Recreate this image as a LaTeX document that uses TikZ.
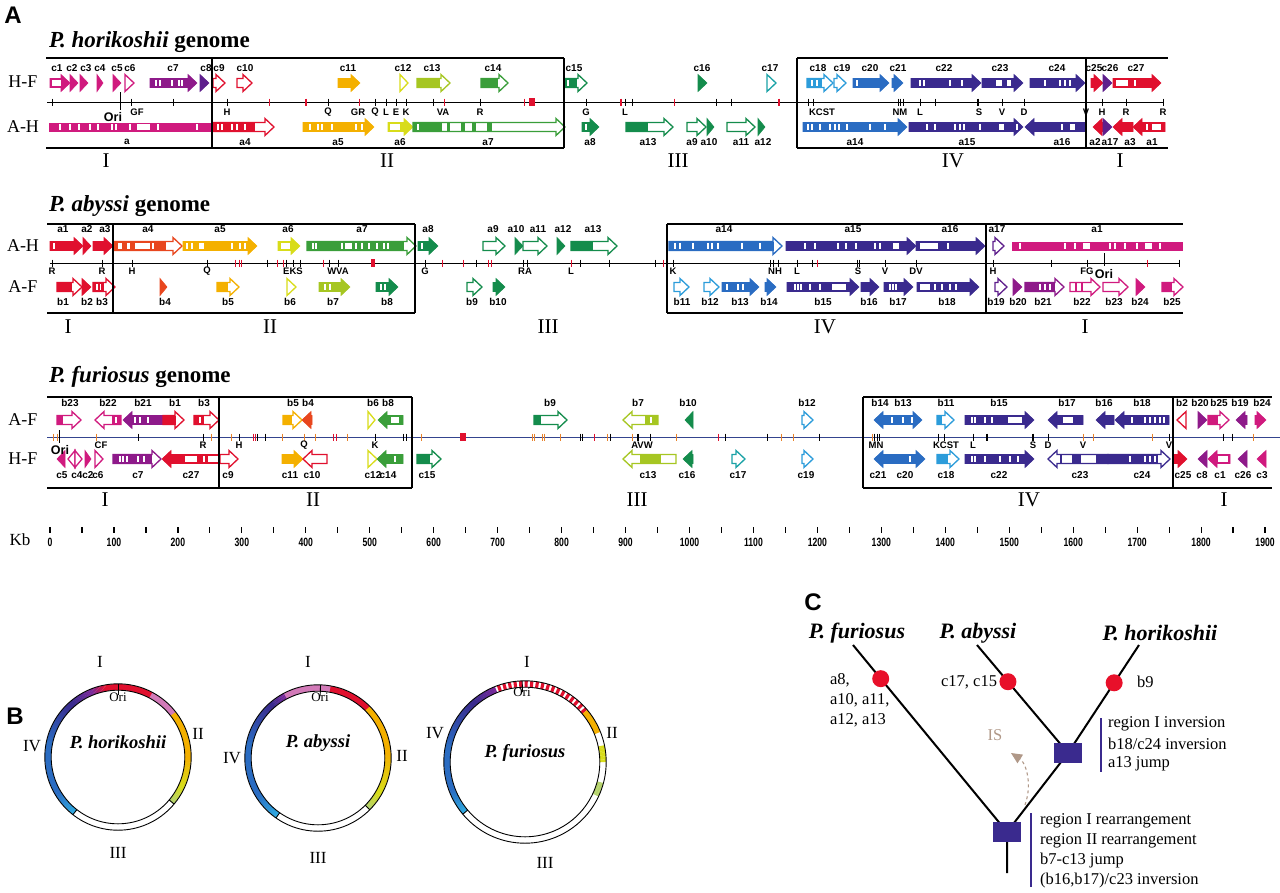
\documentclass[tikz,border=0pt]{standalone}
\usepackage{fontspec}
\usepackage{graphicx}
\setmainfont{Liberation Serif}
\newfontfamily\sansf{Liberation Sans}
\usetikzlibrary{calc,arrows.meta,backgrounds}
\definecolor{cMag}{HTML}{D01A7E}
\definecolor{cPur}{HTML}{8E1A8A}
\definecolor{cDpur}{HTML}{5E1F8C}
\definecolor{cRed}{HTML}{E0102E}
\definecolor{cOred}{HTML}{E8461E}
\definecolor{cOra}{HTML}{F4B000}
\definecolor{cYel}{HTML}{D8DC1A}
\definecolor{cYgr}{HTML}{A6C622}
\definecolor{cGr}{HTML}{3A9E3A}
\definecolor{cDgr}{HTML}{148C4C}
\definecolor{cTeal}{HTML}{1AA2A6}
\definecolor{cLblu}{HTML}{2C9CDA}
\definecolor{cBlu}{HTML}{2A6CC2}
\definecolor{cInd}{HTML}{3A2A8E}
\definecolor{cPink}{HTML}{D27AB8}
\definecolor{cLgr}{HTML}{B4D26A}
\definecolor{cCyan}{HTML}{2EA8E0}
\definecolor{cPurB}{HTML}{7A2A9A}
\definecolor{cIS}{HTML}{B09888}
\definecolor{cTick}{HTML}{E8822A}
\definecolor{cLine}{HTML}{34448E}
\definecolor{cDot}{HTML}{E8102A}
\newcommand\fs[1]{\fontsize{#1}{#1}\selectfont}
\newcount\nn
% gene arrow: tail, tip, y, style
\newcommand\GA[4]{%
  \pgfmathsetmacro\gd{(#2>#1)?1:-1}%
  \pgfmathsetmacro\gh{#2-\gd*min(9,abs(#2-#1))}%
  \path[#4] (#1,#3-4.5) -- (\gh,#3-4.5) -- (\gh,#3-8.5) -- (#2,#3) -- (\gh,#3+8.5) -- (\gh,#3+4.5) -- (#1,#3+4.5) -- cycle;}
\newcommand\WB[3]{\fill[white] (#1,#3-3) rectangle (#2,#3+3);}
\newcommand\CB[4]{\fill[#4] (#1,#3-4.5) rectangle (#2,#3+4.5);}
\newcommand\ST[2]{\foreach \s in {#2}{\fill[white] (\s-0.9,#1-3) rectangle (\s+0.9,#1+3);}}
\newcommand\TK[3][]{\foreach \t in {#3}{\draw[line width=0.9,#1] (\t,#2-3.5) -- (\t,#2+3.5);}}
\newcommand\GLs[2]{\foreach \x/\l in {#2}{\global\advance\nn by 1\relax \node[glab] (g\the\nn) at (\x,#1) {\l};}}
\newcommand\TLs[2]{\foreach \x/\l in {#2}{\global\advance\nn by 1\relax \node[tlab] (t\the\nn) at (\x,#1) {\l};}}
\newcommand\RG[5]{\foreach \i in {0,...,11}{%
  \pgfmathsetmacro\aa{#2+(#3-#2)*\i/12}%
  \pgfmathsetmacro\ab{#2+(#3-#2)*(\i+1.15)/12}%
  \pgfmathtruncatemacro\pc{100-\i*100/11}%
  \draw[line width=6,#4!\pc!#5] (\aa:#1) arc[start angle=\aa,end angle=\ab,radius=#1];}}
\begin{document}
\begin{tikzpicture}[x=1pt,y=-1pt,
  every node/.style={inner sep=0pt,outer sep=0pt},
  glab/.style={font=\sansf\bfseries\fs{10}},
  tlab/.style={font=\sansf\bfseries\fs{9.5}},
  side/.style={font=\fs{18}},
  reg/.style={font=\fs{21}},
  ttl/.style={font=\fs{23}\bfseries,anchor=west},
  plab/.style={font=\sansf\bfseries\fs{24}},
  gf/.style={fill=#1,draw=#1,line width=0.6},
  go/.style={fill=white,draw=#1,line width=1.3},
  box/.style={line width=1.2},
  vbar/.style={line width=1.6},
  sq/.style={fill=cInd,minimum width=28,minimum height=20},
  dot/.style={circle,fill=cDot,minimum size=17},
  tree/.style={line width=2},
  ctxt/.style={font=\fs{16.5}},
  btxt/.style={font=\fs{17}},
  cname/.style={font=\fs{22}\bfseries\itshape},
  bname/.style={font=\fs{18.5}\bfseries\itshape}]
\useasboundingbox (0,0) rectangle (1280,892);
\node[plab] (pA) at (13,15) {A};
% ================= Row 1: P. horikoshii =================
\node[ttl] (tit1) at (49,42) {\textit{P. horikoshii} genome};
\node[side] (hf1) at (23,82) {H-F};
\node[side] (ah1) at (23,127) {A-H};
% H-F
\GA{50}{70}{83}{gf=cMag}\WB{51.5}{61}{83}
\GA{70}{78}{83}{gf=cMag}
\GA{80}{88}{83}{gf=cMag}
\GA{97}{103}{83}{gf=cMag}
\GA{113}{121}{83}{gf=cMag}
\GA{125}{134}{83}{go=cMag}
\GA{150}{197}{83}{gf=cPur}\ST{83}{156,160,172,179,182}
\GA{200}{209}{83}{gf=cDpur}
\GA{213}{225}{83}{go=cRed}
\GA{237}{252}{83}{go=cRed}
\GA{338}{360}{83}{gf=cOra}
\GA{400}{408}{83}{go=cYel}
\GA{417}{450}{83}{go=cYgr}\CB{417}{440}{83}{cYgr}
\GA{481}{508}{83}{go=cGr}\CB{481}{498}{83}{cGr}
\GA{564}{587}{83}{go=cDgr}\CB{564}{577}{83}{cDgr}\ST{83}{568}
\GA{698}{707}{83}{gf=cDgr}
\GA{767}{776}{83}{go=cTeal}
\GA{807}{833}{83}{go=cLblu}\CB{807}{822}{83}{cLblu}\ST{83}{812,817}
\GA{834}{846}{83}{go=cLblu}
\GA{853}{889}{83}{gf=cBlu}\ST{83}{857}
\GA{892}{903}{83}{gf=cBlu}
\GA{911}{981}{83}{gf=cInd}\ST{83}{920,924,950,962}
\GA{982}{1023}{83}{gf=cInd}\WB{996}{1002}{83}\WB{1007}{1011}{83}
\GA{1030}{1085}{83}{gf=cInd}\ST{83}{1045,1060,1065,1070}
\GA{1091}{1103}{83}{gf=cRed}
\GA{1103}{1112}{83}{gf=cDpur}
\GA{1113}{1161}{83}{gf=cRed}\WB{1115.5}{1128}{83}\ST{83}{1135}
% A-H
\fill[cMag] (49,122.5) rectangle (212,131.5);
\ST{127}{60,70,79,90,98,112,116,130,158,197}\WB{137}{150}{127}
\GA{212}{274}{127}{go=cRed}\CB{212}{255}{127}{cRed}\ST{127}{218,222,232,237,245}
\GA{303}{374}{127}{gf=cOra}\ST{127}{310,318,322,332,356,362}
\GA{388}{413}{127}{gf=cYel}\WB{390}{400}{127}
\GA{413}{565}{127}{go=cGr}\CB{413}{442}{127}{cGr}\CB{447}{450}{127}{cGr}\CB{461}{465}{127}{cGr}\CB{472}{476}{127}{cGr}\CB{487}{492}{127}{cGr}\ST{127}{418}
\GA{582}{599}{127}{gf=cDgr}\ST{127}{586}
\GA{626}{673}{127}{go=cDgr}\CB{626}{648}{127}{cDgr}
\GA{687}{706}{127}{go=cDgr}
\GA{707}{714}{127}{gf=cDgr}
\GA{727}{755}{127}{go=cDgr}
\GA{758}{765}{127}{gf=cDgr}
\GA{803}{907}{127}{gf=cBlu}\ST{127}{808,812,820,830,835,839,847,870,885}
\GA{909}{1023}{127}{gf=cInd}\ST{127}{927,935,955,960,964,980,1017}\WB{999}{1004}{127}
\GA{1086}{1025}{127}{gf=cInd}\ST{127}{1062}\WB{1070}{1075}{127}
\GA{1103}{1093}{127}{gf=cRed}
\GA{1103}{1112}{127}{gf=cDpur}
\GA{1133}{1113}{127}{gf=cRed}
\GA{1165}{1133}{127}{gf=cRed}\WB{1152}{1161}{127}\ST{127}{1147}
\GLs{68}{57/c1,72/c2,86/c3,100/c4,117/c5,130/c6,173/c7,206/c8,219/c9,245/c10,348/c11,403/c12,432/c13,493/c14,574/c15,702/c16,770/c17,818/c18,842/c19,870/c20,898/c21,944/c22,1000/c23,1057/c24,1094/c25,1110/c26,1136/c27}
\GLs{142}{127/a,245/a4,338/a5,400/a6,488/a7,590/a8,648/a13,692/a9,709/a10,741/a11,763/a12,855/a14,967/a15,1062/a16,1095/a2,1110/a17,1130/a3,1152/a1}
% genome line
\draw[line width=0.9] (47,102) -- (1163,102);
\TK{102}{52,131,173,227,328,375,386,396,406,433,480,586,625,632,716,731,797,808,813,898,900.5,903,920,935,1002,1024,1086,1102,1126,1163}
\TK[cRed]{102}{269,359,444,524,674}
\TK[cRed,line width=2.2]{102}{306,621,779}
\TK[line width=2.2]{102}{978}
\fill[cRed] (529,98) rectangle (535,106);
\draw[line width=1] (120,92) -- (120,110);
\node[font=\sansf\bfseries\fs{12.5}] (ori1) at (113,117) {Ori};
\TLs{112}{137/GF,227/H,328/Q,358/GR,375/Q,386/L,396/E,406/K,443/VA,480/R,586/G,625/L,822/KCST,900/NM,920/L,979/S,1002/V,1024/D,1086/V,1102/H,1126/R,1163/R}
\node[reg] (r1a) at (106,161) {I};
\node[reg] (r1b) at (387,161) {II};
\node[reg] (r1c) at (678,161) {III};
\node[reg] (r1d) at (953,161) {IV};
\node[reg] (r1e) at (1120,161) {I};
\draw[box] (46,58) -- (564,58) (46,148) -- (564,148) (797,58) -- (1168,58) (797,148) -- (1168,148);
\draw[vbar] (212,58) -- (212,148) (564,58) -- (564,148) (797,58) -- (797,148) (1086,58) -- (1086,148);
% ================= Row 2: P. abyssi =================
\node[ttl] (tit2) at (49,206) {\textit{P. abyssi} genome};
\node[side] (ah2) at (23,246) {A-H};
\node[side] (af2) at (23,287) {A-F};
\GA{50}{83}{246}{gf=cRed}\ST{246}{54}
\GA{83}{91}{246}{gf=cRed}
\GA{93}{113}{246}{gf=cRed}
\GA{113}{182}{246}{go=cOred}\CB{113}{166}{246}{cOred}\WB{118}{122}{246}\WB{127}{130}{246}\WB{135}{150}{246}\ST{246}{153}
\GA{183}{257}{246}{gf=cOra}\ST{246}{187,192,232,240,245}\WB{199}{204}{246}
\GA{278}{300}{246}{gf=cYel}\WB{280.5}{290}{246}
\GA{307}{416}{246}{go=cGr}\CB{307}{404}{246}{cGr}\ST{246}{313,316,342,356,362,369,377,384,388}\WB{345}{352}{246}
\GA{418}{438}{246}{gf=cDgr}\ST{246}{422}
\GA{483}{505}{246}{go=cDgr}
\GA{515}{523}{246}{gf=cDgr}
\GA{523}{547}{246}{go=cDgr}
\GA{557}{565}{246}{gf=cDgr}
\GA{571}{617}{246}{go=cDgr}\CB{571}{593}{246}{cDgr}
\GA{669}{782}{246}{go=cBlu}\CB{669}{774}{246}{cBlu}\ST{246}{675,680,693,708,712,718,742,760}
\GA{786}{916}{246}{gf=cInd}\ST{246}{805,815,838,846,856,875,880}\WB{893}{899}{246}
\GA{916}{985}{246}{gf=cInd}\WB{920}{938}{246}\ST{246}{948}
\GA{993}{1004}{246}{go=cDpur}
\fill[cMag] (1012,241.5) rectangle (1183,250.5);
\ST{246}{1020,1065,1075,1110,1115,1125,1137,1160}\WB{1083}{1090}{246}\WB{1145}{1152}{246}
\GLs{229}{63/a1,87/a2,105/a3,148/a4,220/a5,288/a6,362/a7,428/a8,493/a9,516/a10,538/a11,563/a12,593/a13,724/a14,853/a15,950/a16,997/a17,1097/a1}
% A-F
\GA{57}{82}{287}{go=cRed}\CB{57}{72}{287}{cRed}
\GA{82}{91}{287}{gf=cRed}
\GA{93}{115}{287}{go=cRed}\CB{93}{104}{287}{cRed}\ST{287}{97,100.5}
\GA{160}{167}{287}{gf=cOred}
\GA{217}{239}{287}{go=cOra}\CB{217}{228}{287}{cOra}
\GA{287}{296}{287}{go=cYel}
\GA{319}{350}{287}{gf=cYgr}\ST{287}{325,330}
\GA{376}{398}{287}{gf=cDgr}\ST{287}{381,385}
\GA{467}{482}{287}{go=cDgr}
\GA{493}{505}{287}{gf=cDgr}
\GA{674}{689}{287}{go=cLblu}
\GA{704}{719}{287}{go=cLblu}
\GA{722}{759}{287}{gf=cBlu}\ST{287}{727,738,743}
\GA{765}{776}{287}{gf=cBlu}
\GA{787}{859}{287}{gf=cInd}\ST{287}{795,798,801,810,820}\WB{832}{846}{287}
\GA{861}{879}{287}{gf=cInd}
\GA{884}{913}{287}{gf=cInd}\ST{287}{890,893,896}
\GA{917}{979}{287}{gf=cInd}\WB{920}{930}{287}\ST{287}{935,942,950,956}
\GA{995}{1007}{287}{go=cDpur}
\GA{1013}{1022}{287}{gf=cPur}
\GA{1025}{1064}{287}{go=cPur}\CB{1025}{1055}{287}{cPur}\ST{287}{1040,1045,1050}
\GA{1070}{1100}{287}{go=cMag}\CB{1075}{1077}{287}{cMag}\CB{1081}{1083}{287}{cMag}
\GA{1103}{1128}{287}{go=cMag}
\GA{1136}{1145}{287}{gf=cMag}
\GA{1162}{1183}{287}{go=cMag}\CB{1162}{1172}{287}{cMag}
\GLs{302}{63/b1,87/b2,102/b3,165/b4,228/b5,290/b6,333/b7,387/b8,472/b9,498/b10,682/b11,710/b12,740/b13,769/b14,823/b15,869/b16,898/b17,947/b18,996/b19,1018/b20,1043/b21,1082/b22,1114/b23,1140/b24,1172/b25}
\draw[line width=0.9] (50,263) -- (1180,263);
\TK{263}{52,102,132,207,267,286,293,300,329,338,425,476,523,527,580,609,655,673,770,773,778,797,812,857,859.5,885,916,993,1051,1087,1179}
\TK[cRed]{263}{235,239,241,277,283,323,442,463,488,491,571,663,817,1147}
\fill[cRed] (371,259) rectangle (375,267);
\draw[line width=1] (1104,253) -- (1104,266);
\node[font=\sansf\bfseries\fs{12.5}] (ori2) at (1104,274) {Ori};
\TLs{271}{52/R,102/R,132/H,207/Q,293/EKS,338/WVA,425/G,525/RA,571/L,673/K,775/NH,797/L,858/S,885/V,916/DV,993/H,1087/FG}
\node[reg] (r2a) at (68,327) {I};
\node[reg] (r2b) at (270,327) {II};
\node[reg] (r2c) at (548,327) {III};
\node[reg] (r2d) at (825,327) {IV};
\node[reg] (r2e) at (1085,327) {I};
\draw[box] (47,224) -- (415,224) (47,313) -- (415,313) (667,224) -- (1183,224) (667,313) -- (1183,313);
\draw[vbar] (415,224) -- (415,313) (667,224) -- (667,313);
\draw[line width=2.6] (113,224) -- (113,313) (986,224) -- (986,313);
% ================= Row 3: P. furiosus =================
\node[ttl] (tit3) at (49,377) {\textit{P. furiosus} genome};
\node[side] (af3) at (23,420) {A-F};
\node[side] (hf3) at (23,459) {H-F};
\GA{57}{81}{420}{go=cMag}\CB{57}{63}{420}{cMag}
\GA{121}{95}{420}{go=cMag}\CB{112}{121}{420}{cMag}\ST{420}{116}
\GA{163}{123}{420}{gf=cPur}\ST{420}{135,140,148}
\GA{163}{184}{420}{go=cRed}\CB{163}{176}{420}{cRed}
\GA{194}{219}{420}{go=cRed}\CB{194}{204}{420}{cRed}\ST{420}{200}
\GA{283}{302}{420}{go=cOra}\CB{283}{292}{420}{cOra}
\GA{312}{302}{420}{gf=cOred}
\GA{368}{375}{420}{go=cYel}
\GA{403}{378}{420}{gf=cGr}\WB{391}{399}{420}
\GA{534}{567}{420}{go=cDgr}\CB{534}{541}{420}{cDgr}
\GA{658}{623}{420}{go=cYgr}\CB{645}{658}{420}{cYgr}\ST{420}{651}
\GA{693}{685}{420}{gf=cDgr}
\GA{802}{813}{420}{go=cLblu}
\GA{898}{874}{420}{gf=cBlu}\GA{898}{922}{420}{gf=cBlu}\ST{420}{892,903,912}
\GA{937}{954}{420}{go=cLblu}\CB{937}{942}{420}{cLblu}
\GA{965}{1034}{420}{gf=cInd}\ST{420}{972,975,985,992}\WB{1008}{1022}{420}
\GA{1083}{1048}{420}{gf=cInd}\WB{1063}{1073}{420}
\GA{1114}{1096}{420}{gf=cInd}
\GA{1169}{1115}{420}{gf=cInd}\ST{420}{1132,1145,1150,1155,1160,1164}
\GA{1186}{1177}{420}{go=cRed}
\GA{1198}{1207}{420}{gf=cPur}
\GA{1208}{1229}{420}{go=cMag}\CB{1208}{1218}{420}{cMag}
\GA{1247}{1236}{420}{gf=cPur}
\GA{1255}{1266}{420}{gf=cMag}
\GLs{403}{70/b23,108/b22,143/b21,175/b1,204/b3,293/b5,308/b4,373/b6,388/b8,550/b9,638/b7,688/b10,807/b12,880/b14,903/b13,946/b11,999/b15,1067/b17,1104/b16,1142/b18,1182/b2,1200/b20,1219/b25,1240/b19,1262/b24}
% H-F
\GA{65}{57}{459}{gf=cMag}
\GA{75}{68}{459}{go=cMag}\GA{75}{82}{459}{go=cMag}
\GA{85}{91}{459}{gf=cMag}
\GA{95}{103}{459}{go=cMag}
\GA{113}{161}{459}{go=cPur}\CB{113}{152}{459}{cPur}\ST{459}{120,123,127,138,144}
\GA{220}{162}{459}{gf=cRed}\WB{185}{197}{459}\ST{459}{204}\WB{208}{218}{459}
\GA{220}{238}{459}{go=cRed}
\GA{282}{303}{459}{gf=cOra}
\GA{327}{303}{459}{go=cRed}
\GA{368}{377}{459}{go=cYel}
\GA{403}{377}{459}{gf=cGr}\ST{459}{395}
\GA{417}{441}{459}{go=cDgr}\CB{417}{430}{459}{cDgr}
\GA{676}{623}{459}{go=cYgr}\CB{640}{661}{459}{cYgr}
\GA{693}{683}{459}{gf=cDgr}
\GA{732}{745}{459}{go=cTeal}
\GA{802}{813}{459}{go=cLblu}
\GA{898}{874}{459}{gf=cBlu}\GA{898}{925}{459}{gf=cBlu}\ST{459}{910}
\GA{937}{959}{459}{go=cLblu}\CB{937}{948}{459}{cLblu}
\GA{965}{1034}{459}{gf=cInd}\ST{459}{972,975,985,1000,1010,1018}
\GA{1108}{1048}{459}{go=cInd}\CB{1072}{1081}{459}{cInd}\CB{1096}{1108}{459}{cInd}\CB{1060}{1062}{459}{cInd}
\GA{1108}{1170}{459}{go=cInd}\CB{1108}{1158}{459}{cInd}\ST{459}{1130,1145,1150,1155}
\GA{1174}{1187}{459}{gf=cRed}
\GA{1207}{1198}{459}{gf=cPur}
\GA{1230}{1208}{459}{gf=cMag}\WB{1218}{1227.5}{459}
\GA{1247}{1238}{459}{gf=cPur}
\GA{1266}{1257}{459}{gf=cMag}
\GLs{475}{62/c5,77/c4,88/c2,98/c6,138/c7,191/c27,228/c9,290/c11,312/c10,373/c12,388/c14,427/c15,648/c13,687/c16,738/c17,806/c19,878/c21,905/c20,946/c18,999/c22,1080/c23,1142/c24,1183/c25,1202/c8,1220/c1,1243/c26,1262/c3}
\draw[cLine,line width=1] (47,437) -- (1280,437);
\TK[cTick]{437}{53,57,96,211,231,282,304,315,347,421,532,534.5,542,544.5,560,607,632,676,781,793,872,1083,1093,1152,1253}
\TK{437}{138,203,239,257,265,375,403,406,580,582.5,610,650,725,767,819,874.5,877,879.5,938,944,973,1048,1169,1223,1232}
\TK[line width=2.2]{437}{638,987,1033}
\TK[cRed]{437}{253,255,333,336,594,718}
\fill[cRed] (460,433) rectangle (466,441);
\draw[line width=1] (59,430) -- (59,443);
\node[font=\sansf\bfseries\fs{12.5}] (ori3) at (60,450) {Ori};
\TLs{445}{101/CF,203/R,239/H,304/Q,375/K,642/AVW,876/MN,946/KCST,973/L,1033/S,1048/D,1083/V,1169/V}
\node[reg] (r3a) at (105,500) {I};
\node[reg] (r3b) at (313,500) {II};
\node[reg] (r3c) at (637,500) {III};
\node[reg] (r3d) at (1029,500) {IV};
\node[reg] (r3e) at (1224,500) {I};
\draw[box] (47,397) -- (412,397) (47,488) -- (412,488) (863,397) -- (1272,397) (863,488) -- (1272,488);
\draw[vbar] (412,397) -- (412,488) (863,397) -- (863,488);
\draw[line width=2.6] (219,397) -- (219,488) (1173,397) -- (1173,488);
% ================= Kb axis =================
\node[font=\fs{17}] (kb) at (20,540) {Kb};
\foreach \k in {0,50,...,1900}{\draw[line width=1.2] ({50+0.6395*\k},527) -- ({50+0.6395*\k},533);}
\foreach \k in {0,100,...,1900}{\global\advance\nn by 1\relax
  \node[font=\sansf\bfseries\fs{12}] (k\the\nn) at ({50+0.6395*\k},542) {\scalebox{0.72}[1]{\k}};}
% ================= Panel B =================
\node[plab] (pB) at (15,716) {B};
\begin{scope}[shift={(118,757)},y=1pt]
  \RG{70}{100}{62}{cRed}{cRed}
  \RG{70}{62}{38}{cPink}{cPink}
  \RG{70}{38}{0}{cOra}{cOra}
  \RG{70}{0}{-25}{cOra}{cYel}
  \RG{70}{-25}{-40}{cYel}{cLgr}
  \RG{70}{-128}{-150}{cCyan}{cBlu}
  \RG{70}{-150}{-190}{cBlu}{cBlu}
  \RG{70}{170}{130}{cBlu}{cInd}
  \RG{70}{130}{112}{cInd}{cPurB}
  \RG{70}{112}{100}{cPurB}{cRed}
  \draw[line width=0.9] (0,0) circle[radius=73.2] (0,0) circle[radius=66.8];
  \draw[line width=0.9] (-40:66.8) -- (-40:73.2) (-128:66.8) -- (-128:73.2);
  \draw[line width=0.9] (90:73) -- (90:62);
\end{scope}
\node[btxt] (b1i) at (100,662) {I};
\node[font=\fs{13}] (b1o) at (118,697) {Ori};
\node[btxt] (b1ii) at (198,734) {II};
\node[btxt] (b1iii) at (118,853) {III};
\node[btxt] (b1iv) at (32,746) {IV};
\node[bname] (b1n) at (118,742) {P. horikoshii};
\begin{scope}[shift={(318,758)},y=1pt]
  \RG{70}{118}{80}{cPink}{cPink}
  \RG{70}{80}{45}{cRed}{cRed}
  \RG{70}{45}{5}{cOra}{cOra}
  \RG{70}{5}{-30}{cOra}{cYel}
  \RG{70}{-30}{-45}{cYel}{cLgr}
  \RG{70}{-125}{-150}{cCyan}{cBlu}
  \RG{70}{-150}{-190}{cBlu}{cBlu}
  \RG{70}{170}{130}{cBlu}{cInd}
  \RG{70}{130}{118}{cInd}{cPurB}
  \draw[line width=0.9] (0,0) circle[radius=73.2] (0,0) circle[radius=66.8];
  \draw[line width=0.9] (-45:66.8) -- (-45:73.2) (-125:66.8) -- (-125:73.2);
  \draw[line width=0.9] (88:73) -- (88:62);
\end{scope}
\node[btxt] (b2i) at (308,662) {I};
\node[font=\fs{13}] (b2o) at (320,697) {Ori};
\node[btxt] (b2ii) at (402,756) {II};
\node[btxt] (b2iii) at (318,858) {III};
\node[btxt] (b2iv) at (232,758) {IV};
\node[bname] (b2n) at (318,743) {P. abyssi};
\begin{scope}[shift={(525,762)},y=1pt]
  \foreach \a in {40,44,...,110}{\draw[line width=6,cRed] (\a:78) arc[start angle=\a,end angle=\a+2.3,radius=78];}
  \RG{78}{40}{22}{cOra}{cOra}
  \RG{78}{12}{0}{cYel}{cYel}
  \RG{78}{-15}{-25}{cLgr}{cLgr}
  \RG{78}{-140}{-160}{cCyan}{cBlu}
  \RG{78}{-160}{-190}{cBlu}{cBlu}
  \RG{78}{170}{130}{cBlu}{cInd}
  \RG{78}{130}{112}{cInd}{cPurB}
  \draw[line width=0.9] (0,0) circle[radius=81.2] (0,0) circle[radius=74.8];
  \draw[line width=0.9] (-140:74.8) -- (-140:81.2);
  \draw[line width=0.9] (92:81) -- (92:70);
\end{scope}
\node[btxt] (b3i) at (527,662) {I};
\node[font=\fs{13}] (b3o) at (522,692) {Ori};
\node[btxt] (b3ii) at (612,733) {II};
\node[btxt] (b3iii) at (545,863) {III};
\node[btxt] (b3iv) at (435,733) {IV};
\node[bname] (b3n) at (525,753) {P. furiosus};
% ================= Panel C =================
\node[plab] (pC) at (813,602) {C};
\node[cname] (sf) at (857,633) {P. furiosus};
\node[cname] (sa) at (978,633) {P. abyssi};
\node[cname] (sh) at (1160,633) {P. horikoshii};
\coordinate (tf) at (853,645);
\coordinate (ta) at (977,645);
\coordinate (th) at (1139,645);
\node[sq] (in) at (1068,753) {};
\node[sq] (rt) at (1007,832) {};
\coordinate (st) at (1007,873);
\node[dot] (df) at ($(tf)!0.18!(rt)$) {};
\node[dot] (da) at ($(ta)!0.34!(in)$) {};
\node[dot] (dh) at ($(th)!0.35!(in)$) {};
\begin{scope}[on background layer]
  \draw[tree] (tf) -- (df.center) -- (rt.center) (ta) -- (da.center) -- (in.center)
    (th) -- (dh.center) -- (in.center) (in.center) -- (rt.center) (rt.center) -- (st);
\end{scope}
\node[ctxt,anchor=west] (l1) at (830,680) {a8,};
\node[ctxt,anchor=west] (l2) at (830,700) {a10, a11,};
\node[ctxt,anchor=west] (l3) at (830,720) {a12, a13};
\node[ctxt,anchor=east] (l4) at (997,682) {c17, c15};
\node[ctxt,anchor=west] (l5) at (1137,682) {b9};
\coordinate (ba1) at (1101,718); \coordinate (ba2) at (1101,772);
\draw[cInd,line width=2.5] (ba1) -- (ba2);
\node[ctxt,anchor=west] (e1) at (1108,724) {region I inversion};
\node[ctxt,anchor=west] (e2) at (1108,744) {b18/c24 inversion};
\node[ctxt,anchor=west] (e3) at (1108,764) {a13 jump};
\coordinate (bb1) at (1031,813); \coordinate (bb2) at (1031,887);
\draw[cInd,line width=2.5] (bb1) -- (bb2);
\node[ctxt,anchor=west] (f1) at (1040,821) {region I rearrangement};
\node[ctxt,anchor=west] (f2) at (1040,841) {region II rearrangement};
\node[ctxt,anchor=west] (f3) at (1040,861) {b7-c13 jump};
\node[ctxt,anchor=west] (f4) at (1040,881) {(b16,b17)/c23 inversion};
\node[ctxt,text=cIS] (is) at (995,735) {IS};
\coordinate (isa) at (1025,805);
\coordinate (isb) at (1011,753);
\draw[cIS,dashed,line width=1.1,-{Triangle[length=11pt,width=10pt]}] (isa) .. controls (1033,782) and (1025,762) .. (isb);
\end{tikzpicture}
\end{document}
